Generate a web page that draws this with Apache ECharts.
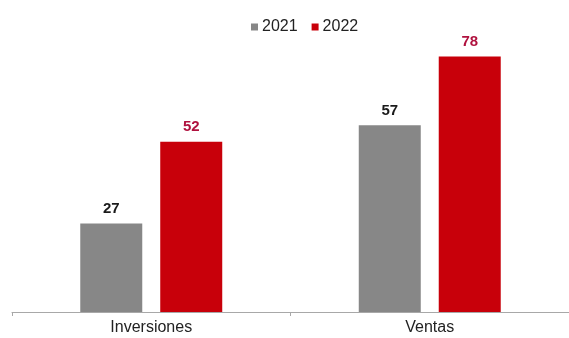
<!DOCTYPE html>
<html>
<head>
<meta charset="utf-8">
<script src="https://cdn.jsdelivr.net/npm/echarts@6/dist/echarts.min.js"></script>
<style>
  html, body { margin: 0; padding: 0; background: #fff; }
  #chart { width: 569px; height: 338px; }
</style>
</head>
<body>
<div id="chart"></div>
<script>
// datos
const categorias = ['Inversiones', 'Ventas'];
const anios = ['2021', '2022'];
const valores2021 = [27, 57];
const valores2022 = [52, 78];

const myChart = echarts.init(document.getElementById('chart'));
myChart.setOption({
  animation: false,
  textStyle: { fontFamily: 'Liberation Sans, Arial, sans-serif' },
  legend: {
    data: anios,
    top: 14,
    left: 246,
    itemWidth: 7,
    itemHeight: 7,
    itemGap: 14,
    icon: 'rect',
    textStyle: { fontSize: 16, color: '#222', padding: [0, 0, 0, -1] }
  },
  grid: {
    left: 12,
    right: -1,
    top: 50,
    bottom: 26
  },
  xAxis: {
    type: 'category',
    data: categorias,
    axisLine: { lineStyle: { color: '#a8a8a8', width: 1 } },
    axisTick: { show: true, length: 4, lineStyle: { color: '#a8a8a8' } },
    axisLabel: { fontSize: 16, color: '#222', margin: 8 }
  },
  yAxis: {
    type: 'value',
    min: 0,
    max: 80,
    show: false,
    splitLine: { show: false }
  },
  series: [
    {
      name: '2021',
      type: 'bar',
      data: valores2021,
      barWidth: 62,
      barGap: '29%',
      itemStyle: { color: '#878787' },
      label: {
        show: true,
        position: 'top',
        distance: 7,
        fontSize: 15,
        fontWeight: 'bold',
        color: '#1a1a1a'
      }
    },
    {
      name: '2022',
      type: 'bar',
      data: valores2022,
      barWidth: 62,
      itemStyle: { color: '#c8000a' },
      label: {
        show: true,
        position: 'top',
        distance: 7,
        fontSize: 15,
        fontWeight: 'bold',
        color: '#b0123f'
      }
    }
  ]
});
</script>
</body>
</html>
